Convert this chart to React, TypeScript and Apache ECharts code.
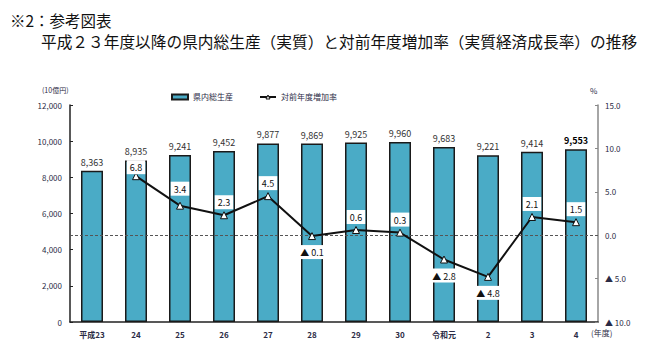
import React, { useEffect, useRef } from "react";
import * as echarts from "echarts";

const categories = ["平成23", "24", "25", "26", "27", "28", "29", "30", "令和元", "2", "3", "4"];
const gdpValues = [8363, 8935, 9241, 9452, 9877, 9869, 9925, 9960, 9683, 9221, 9414, 9553];
const growthRates: (number | null)[] = [null, 6.8, 3.4, 2.3, 4.5, -0.1, 0.6, 0.3, -2.8, -4.8, 2.1, 1.5];

const JP = '"Noto Sans CJK JP", "Noto Sans", sans-serif';
const TXT = "#2b2b45";

export default function App() {
  const ref = useRef<HTMLDivElement>(null);
  useEffect(() => {
    if (!ref.current) return;
    const chart = echarts.init(ref.current, null, { renderer: "svg" });
    const fmtNum = (v: number) => v.toLocaleString("en-US");
    const labelDistance = (v: number, i: number) => {
      if (v < 0) return 5;
      if (i === 1) return -2;
      if (i === 2) return 6;
      return 2;
    };
    chart.setOption({
      animation: false,
      backgroundColor: "#ffffff",
      textStyle: { fontFamily: JP },
      graphic: [
        { type: "text", left: 10, top: 12, style: { text: "※2：参考図表", font: `15.5px ${JP}`, fill: "#111" } },
        {
          type: "text",
          left: 41,
          top: 34,
          style: {
            text: "平成２３年度以降の県内総生産（実質）と対前年度増加率（実質経済成長率）の推移",
            font: `15.7px ${JP}`,
            fill: "#111",
          },
        },
        { type: "text", left: 42, top: 86, style: { text: "(10億円)", font: `7px ${JP}`, fill: TXT } },
        { type: "text", left: 590, top: 86, style: { text: "%", font: `8px ${JP}`, fill: TXT } },
        { type: "text", left: 591, top: 328, style: { text: "(年度)", font: `8px ${JP}`, fill: TXT } },
      ],
      legend: {
        left: 166,
        top: 88,
        itemWidth: 16,
        itemHeight: 5,
        itemGap: 26,
        textStyle: { fontSize: 8, color: TXT, fontFamily: JP },
        data: [
          { name: "県内総生産", icon: "rect" },
          { name: "対前年度増加率", itemStyle: { color: "#fff", borderColor: "#111", borderWidth: 1 } },
        ],
      },
      grid: { left: 70, right: 54, top: 105, bottom: 32 },
      xAxis: {
        type: "category",
        data: categories,
        axisLine: { lineStyle: { color: "#222", width: 1.5 } },
        axisTick: { inside: true, length: 3, lineStyle: { color: "#222" } },
        axisLabel: { fontSize: 8, color: TXT, fontWeight: "bold", margin: 8 },
      },
      yAxis: [
        {
          type: "value",
          min: 0,
          max: 12000,
          interval: 2000,
          axisLine: { show: true, lineStyle: { color: "#222", width: 1.5 } },
          axisTick: { show: true, inside: true, length: 3, lineStyle: { color: "#222" } },
          splitLine: { show: false },
          axisLabel: { fontSize: 8, color: TXT, margin: 8, formatter: (v: number) => fmtNum(v) },
        },
        {
          type: "value",
          min: -10,
          max: 15,
          interval: 5,
          position: "right",
          axisLine: { show: true, lineStyle: { color: "#888", width: 1.5 } },
          axisTick: { show: true, inside: true, length: 3, lineStyle: { color: "#888" } },
          splitLine: { show: false },
          axisLabel: {
            fontSize: 8,
            color: TXT,
            margin: 7,
            formatter: (v: number) => (v < 0 ? "▲ " + Math.abs(v).toFixed(1) : v.toFixed(1)),
          },
        },
      ],
      series: [
        {
          name: "県内総生産",
          type: "bar",
          yAxisIndex: 0,
          barWidth: "50%",
          data: gdpValues.map((v, i) => ({
            value: v,
            label: i === gdpValues.length - 1 ? { fontWeight: "bold", color: "#000" } : undefined,
          })),
          itemStyle: { color: "#4aabc6", borderColor: "#1a1a1a", borderWidth: 1.5 },
          label: {
            show: true,
            position: "top",
            distance: 4,
            fontSize: 9,
            color: "#333",
            formatter: (p: any) => fmtNum(p.value),
          },
        },
        {
          name: "対前年度増加率",
          type: "line",
          yAxisIndex: 1,
          data: growthRates.map((v, i) =>
            v === null
              ? null
              : {
                  value: v,
                  label: { position: v < 0 ? "bottom" : "top", distance: labelDistance(v, i) },
                }
          ),
          connectNulls: false,
          lineStyle: { color: "#111", width: 2 },
          itemStyle: { color: "#fff", borderColor: "#111", borderWidth: 1 },
          symbol: "triangle",
          symbolSize: 7,
          z: 5,
          label: {
            show: true,
            fontSize: 9,
            color: "#111",
            backgroundColor: "#fff",
            padding: [3, 3, 2, 3],
            formatter: (p: any) => (p.value < 0 ? "▲ " + Math.abs(p.value).toFixed(1) : p.value.toFixed(1)),
          },
          markLine: {
            silent: true,
            symbol: "none",
            label: { show: false },
            lineStyle: { color: "#555", type: [3, 2], width: 1 },
            data: [{ yAxis: 0 }],
          },
        },
      ],
    });
    return () => chart.dispose();
  }, []);
  return <div ref={ref} style={{ width: 652, height: 354, position: "absolute", left: 0, top: 0 }} />;
}
